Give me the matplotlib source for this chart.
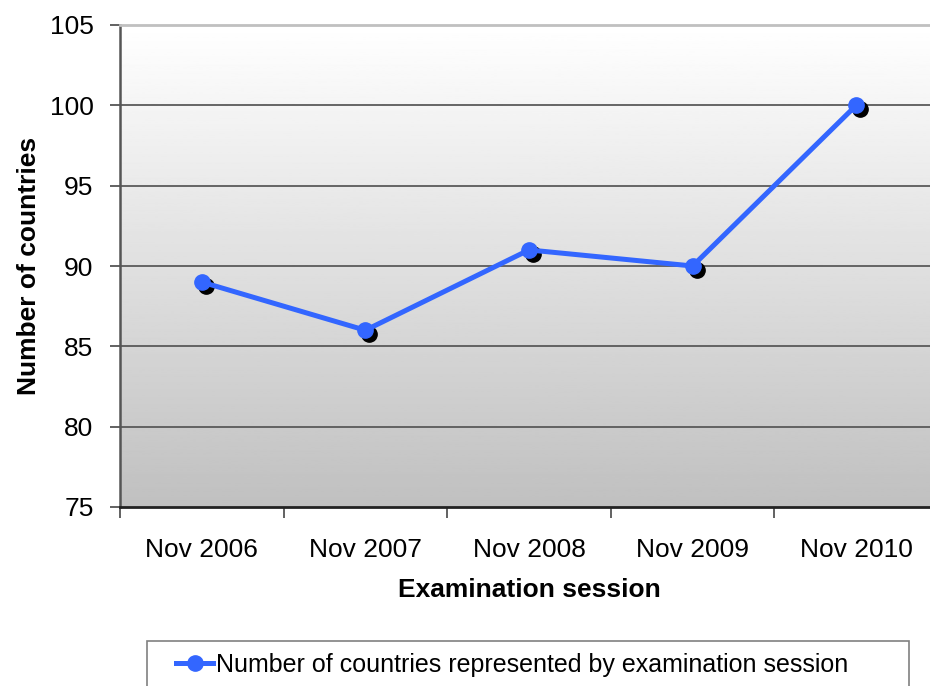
import matplotlib
matplotlib.use('Agg')
import matplotlib.pyplot as plt
import matplotlib.transforms as mtransforms
from matplotlib.patches import Rectangle
import numpy as np

sessions = ['Nov 2006', 'Nov 2007', 'Nov 2008', 'Nov 2009', 'Nov 2010']
countries = [89, 86, 91, 90, 100]
series_name = 'Number of countries represented by examination session'

plt.rcParams['font.family'] = ['Liberation Sans', 'DejaVu Sans']

fig = plt.figure(figsize=(9.3, 6.86), dpi=100)
ax = fig.add_axes([120/930, 1-507/686, 818/930, 482/686])

x = np.arange(len(sessions))
ax.set_xlim(-0.5, len(sessions) - 0.5)
ax.set_ylim(75, 105)

# background gradient white -> grey
grad = np.linspace(1.0, 0.753, 256).reshape(-1, 1)
ax.imshow(grad, cmap='gray', vmin=0, vmax=1, aspect='auto',
          extent=[0, 1, 0, 1], transform=ax.transAxes, zorder=0)

for yv in [80, 85, 90, 95, 100]:
    ax.axhline(yv, color='#5a5a5a', lw=1.3, zorder=1)

# shadow markers
shadow = mtransforms.offset_copy(ax.transData, fig=fig, x=4, y=-4, units='dots')
ax.plot(x, countries, 'o', color='black', markersize=11, transform=shadow, zorder=2)
line, = ax.plot(x, countries, '-o', color='#3366ff', lw=3.6, markersize=11,
                label=series_name, zorder=3)

ax.set_yticks([75, 80, 85, 90, 95, 100, 105])
ax.tick_params(axis='y', labelsize=19, length=7, width=1.3, color='#555555', pad=12)

ax.set_xticks(x)
ax.set_xticklabels(sessions)
ax.set_xticks(np.arange(-0.5, len(sessions)), minor=True)
ax.tick_params(axis='x', which='major', length=0, labelsize=19, pad=22)
ax.tick_params(axis='x', which='minor', length=8, width=1.3, color='#555555')

ax.spines['top'].set_color('#c0c0c0')
ax.spines['top'].set_linewidth(2)
ax.spines['right'].set_visible(False)
ax.spines['left'].set_color('#555555')
ax.spines['left'].set_linewidth(1.8)
ax.spines['bottom'].set_color('#222222')
ax.spines['bottom'].set_linewidth(2)

ax.set_xlabel('Examination session', fontsize=19, fontweight='bold', labelpad=12)
ax.set_ylabel('Number of countries', fontsize=19, fontweight='bold', labelpad=6)

# legend box at the bottom
fig.patches.append(Rectangle((147/930, -0.05), (909-147)/930, 0.05 + 1-641/686,
                             transform=fig.transFigure, fill=False,
                             edgecolor='#808080', lw=1.2))
fig.legend(handles=[line], loc='center', bbox_to_anchor=(512/930, 1-665/686),
           frameon=False, handlelength=1.5, handletextpad=0.1,
           prop={'family': ['Liberation Sans Narrow', 'Liberation Sans'], 'size': 18})

fig.savefig('out.png', dpi=100)
